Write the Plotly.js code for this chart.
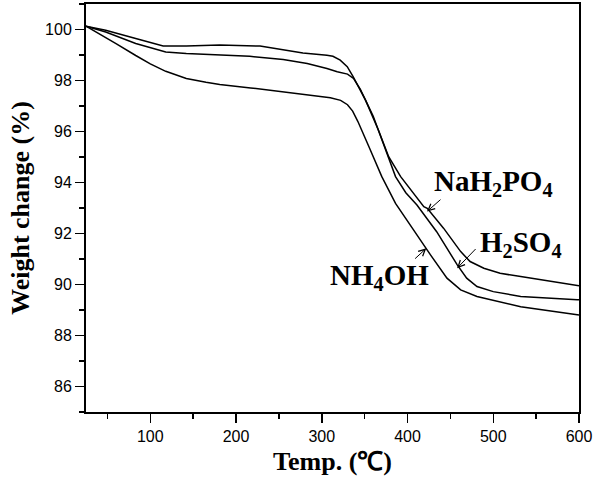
<!DOCTYPE html>
<html>
<head>
<meta charset="utf-8">
<script src="https://cdn.plot.ly/plotly-3.0.1.min.js"></script>
<style>html,body{margin:0;padding:0;background:#fff;}#chart{width:608px;height:478px;}</style>
</head>
<body>
<div id="chart"></div>
<script>
// Temperature (°C) and weight change (%)
const h2so4T = [25, 48, 83, 115, 142, 165, 181, 228, 248, 278, 306, 313, 321.5, 329.7, 336.7, 345, 351, 360, 366, 378, 386, 398, 411, 434, 458, 469, 481, 500, 532, 598, 600];
const h2so4W = [100.13, 99.97, 99.65, 99.35, 99.35, 99.39, 99.39, 99.35, 99.23, 99.08, 98.99, 98.95, 98.80, 98.54, 98.14, 97.62, 97.23, 96.6, 96.06, 95.01, 94.23, 93.6, 93.12, 92.07, 90.77, 90.25, 89.92, 89.72, 89.53, 89.40, 89.40];

const nah2po4T = [25, 48, 83, 118, 142, 190, 216, 255, 283, 306, 318, 330, 337, 345, 351, 366, 378, 392, 419, 423, 442, 462, 473, 489, 508, 532, 598, 600];
const nah2po4W = [100.13, 99.9, 99.45, 99.12, 99.06, 98.97, 98.95, 98.82, 98.67, 98.47, 98.34, 98.25, 98.08, 97.65, 97.23, 96.06, 95.01, 94.23, 93.05, 92.99, 92.21, 91.29, 90.90, 90.64, 90.44, 90.31, 89.95, 89.95];

const nh4ohT = [25, 40, 60, 83, 100, 118, 142, 165, 181, 217, 252, 287, 310, 322, 330, 336, 342, 355, 370, 386, 403, 427, 446, 462, 481, 505, 532, 598, 600];
const nh4ohW = [100.13, 99.85, 99.45, 98.98, 98.65, 98.36, 98.08, 97.93, 97.84, 97.71, 97.57, 97.43, 97.32, 97.22, 97.05, 96.8, 96.4, 95.4, 94.23, 93.18, 92.33, 91.15, 90.25, 89.79, 89.53, 89.33, 89.13, 88.81, 88.80];

const seriesNames = ['NaH<sub>2</sub>PO<sub>4</sub>', 'H<sub>2</sub>SO<sub>4</sub>', 'NH<sub>4</sub>OH'];
// label centres [T, W]; arrow tail [T, W]; arrow head [T, W]
const labelPos = [[500.5, 94.0], [532.6, 91.6], [367.3, 90.3]];
const arrowTail = [[440.2, 93.38], [481.1, 91.45], [407.1, 90.96]];
const arrowHead = [[422.7, 92.86], [457.8, 90.64], [421.9, 91.42]];

const lineStyle = {color: '#000', width: 1.5};
const traces = [
  {x: nah2po4T, y: nah2po4W, mode: 'lines', line: lineStyle, name: 'NaH2PO4', hoverinfo: 'skip'},
  {x: h2so4T, y: h2so4W, mode: 'lines', line: lineStyle, name: 'H2SO4', hoverinfo: 'skip'},
  {x: nh4ohT, y: nh4ohW, mode: 'lines', line: lineStyle, name: 'NH4OH', hoverinfo: 'skip'}
];

const serif = 'Liberation Serif, Times New Roman, serif';
const annotations = [];
for (let i = 0; i < 3; i++) {
  annotations.push({
    x: labelPos[i][0], y: labelPos[i][1], xref: 'x', yref: 'y',
    text: seriesNames[i], showarrow: false,
    font: {family: serif, size: 29, color: '#000', weight: 'bold'},
    xanchor: 'center', yanchor: 'middle'
  });
  annotations.push({
    x: arrowHead[i][0], y: arrowHead[i][1], xref: 'x', yref: 'y',
    ax: arrowTail[i][0], ay: arrowTail[i][1], axref: 'x', ayref: 'y',
    text: '', showarrow: true, arrowhead: 5, arrowsize: 1.3, arrowwidth: 1,
    arrowcolor: '#000', standoff: 0, startstandoff: 0, font: {size: 1}
  });
}

const layout = {
  width: 608, height: 478,
  margin: {l: 86, r: 29, t: 4, b: 66},
  paper_bgcolor: '#fff', plot_bgcolor: '#fff',
  showlegend: false,
  font: {family: 'Liberation Sans, Arial, sans-serif', color: '#000'},
  xaxis: {
    range: [25, 600], tick0: 0, dtick: 100, ticks: 'outside', ticklen: 9, tickwidth: 1.5, tickcolor: '#000',
    minor: {dtick: 50, tick0: 0, ticks: 'outside', ticklen: 5, tickwidth: 1.5, tickcolor: '#000', showgrid: false},
    showgrid: false, zeroline: false, showline: true, linewidth: 2, linecolor: '#000', mirror: true,
    tickfont: {size: 16, color: '#000'},
    title: {text: 'Temp. (℃)', font: {family: serif, size: 26, color: '#000', weight: 'bold'}, standoff: 8}
  },
  yaxis: {
    range: [85, 101], tick0: 0, dtick: 2, ticks: 'outside', ticklen: 9, tickwidth: 1.5, tickcolor: '#000',
    minor: {dtick: 1, tick0: 0, ticks: 'outside', ticklen: 5, tickwidth: 1.5, tickcolor: '#000', showgrid: false},
    showgrid: false, zeroline: false, showline: true, linewidth: 2, linecolor: '#000', mirror: true,
    tickfont: {size: 16, color: '#000'},
    title: {text: 'Weight change (%)', font: {family: serif, size: 26, color: '#000', weight: 'bold'}, standoff: 8}
  },
  annotations: annotations
};

Plotly.newPlot('chart', traces, layout, {staticPlot: true, displayModeBar: false});
</script>
</body>
</html>
